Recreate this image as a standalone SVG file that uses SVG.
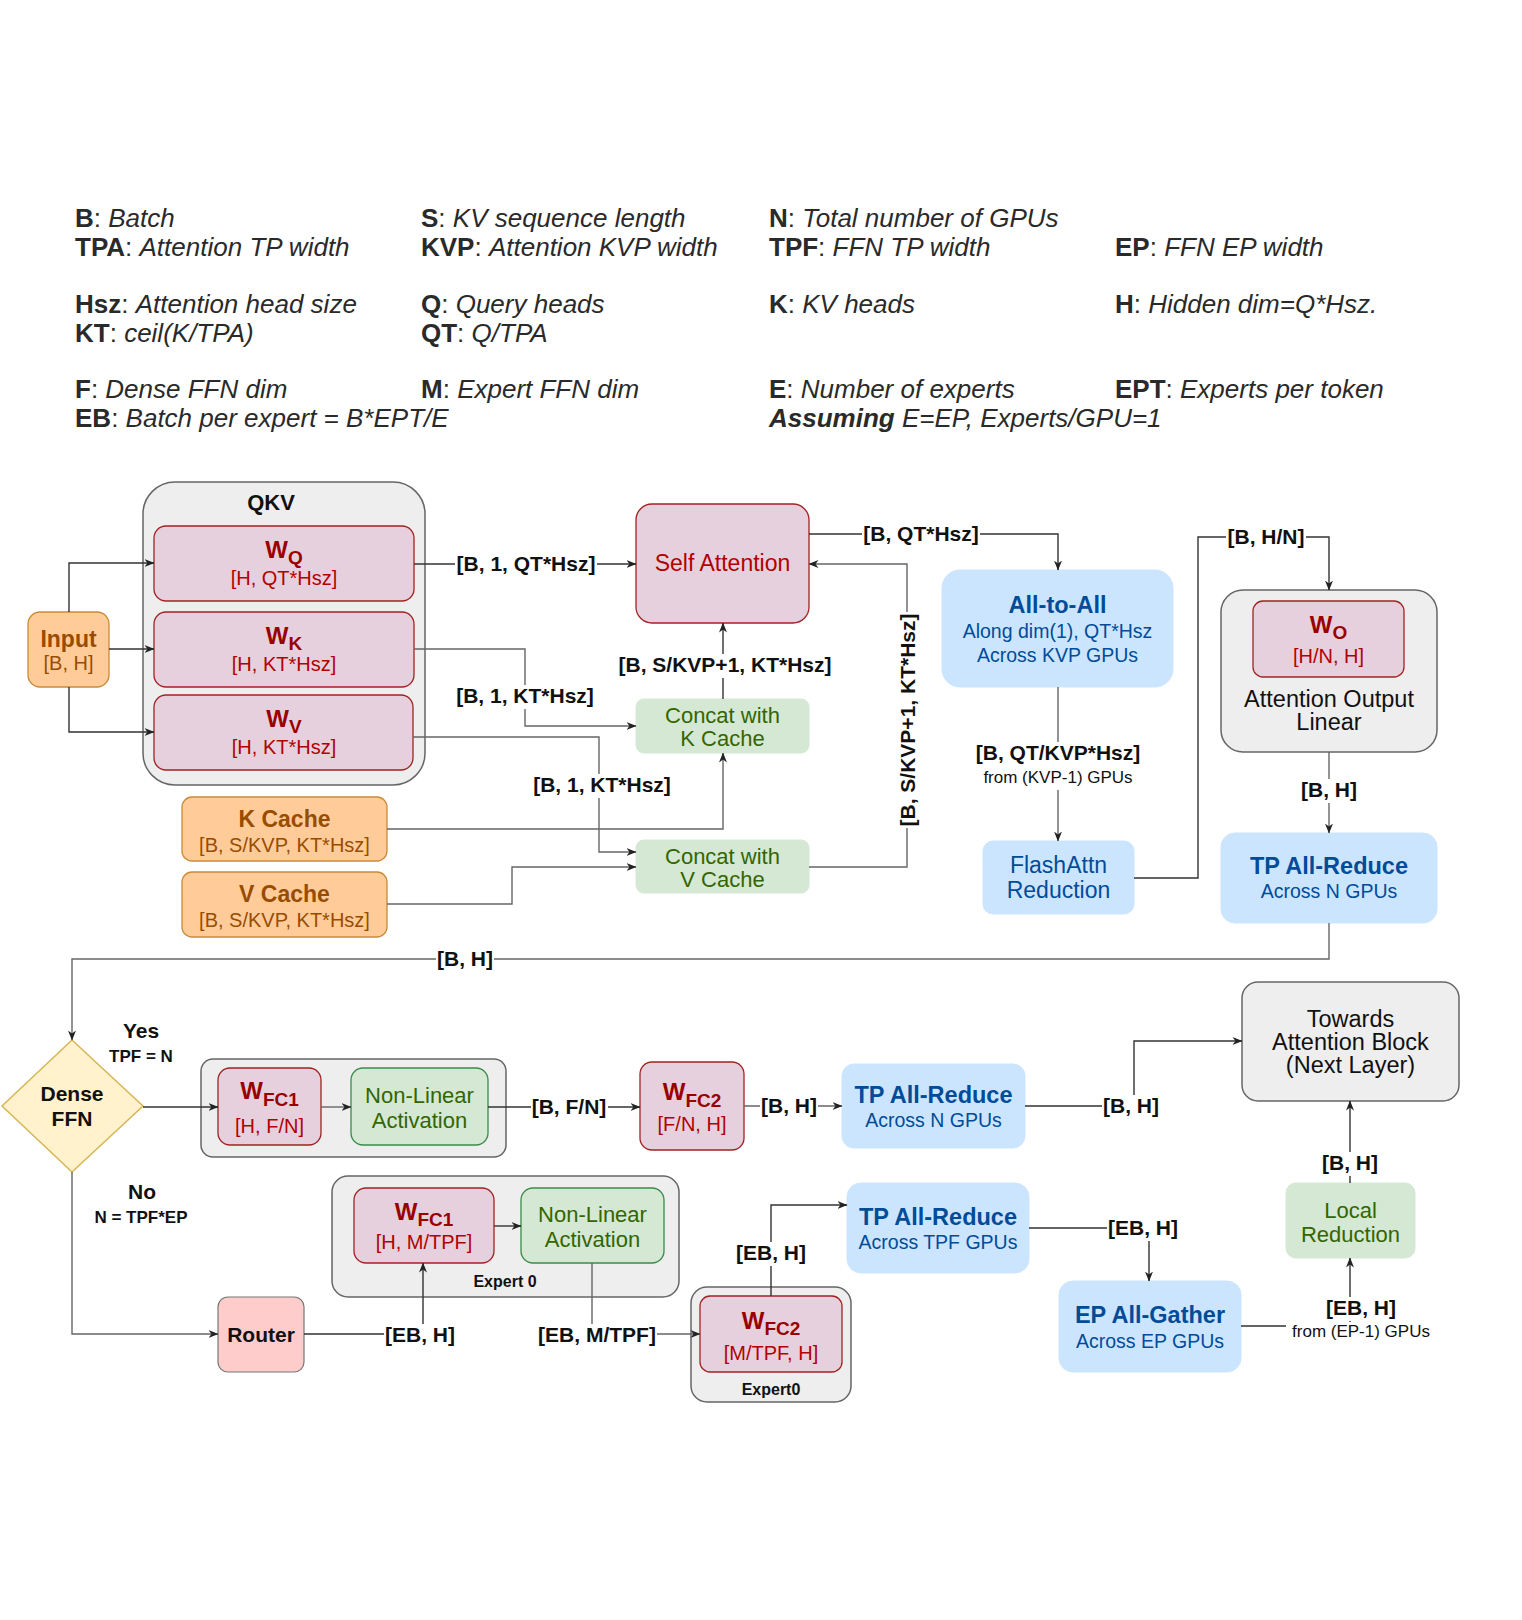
<svg xmlns="http://www.w3.org/2000/svg" width="1522" height="1620" viewBox="0 0 1522 1620">
<defs>
<style>
text{font-family:"Liberation Sans",Arial,Helvetica,sans-serif}
.lg{font-size:26px;fill:#2a2a2a}
.b{font-weight:bold}
.it{font-style:italic}
.lbl{font-size:21px;font-weight:bold;fill:#111;text-anchor:middle}
.sm{font-size:17px;fill:#111;text-anchor:middle}
.cont{fill:#eeeeee;stroke:#666;stroke-width:1.5}
.pk{fill:#e6d0de;stroke:#a32222;stroke-width:1.3}
.wt{font-size:24px;font-weight:bold;fill:#990000;text-anchor:middle}
.sub{font-size:19px}
.ws{font-size:20px;fill:#b20000;text-anchor:middle}
.or{fill:#ffcc99;stroke:#c98a3a;stroke-width:1.3}
.ot{font-size:23px;font-weight:bold;fill:#994c00;text-anchor:middle}
.os{font-size:20px;fill:#994c00;text-anchor:middle}
.bl{fill:#cce5ff;stroke:#cce5ff}
.bt{font-size:23.5px;font-weight:bold;fill:#004c99;text-anchor:middle}
.bs{font-size:19.5px;fill:#004c99;text-anchor:middle}
.bn{font-size:23px;fill:#004c99;text-anchor:middle}
.gr{fill:#d5e8d4;stroke:#d5e8d4}
.gb{fill:#d5e8d4;stroke:#3b8a4b;stroke-width:1.3}
.gt{font-size:22px;fill:#336600;text-anchor:middle}
.nt{font-size:23.5px;fill:#111;text-anchor:middle}
.ln{fill:none;stroke:#333;stroke-width:1.4}
.lgr{fill:none;stroke:#666;stroke-width:1.4}
.bg{fill:#fff}
</style>
<marker id="a" markerWidth="10" markerHeight="8" refX="9.5" refY="4" orient="auto" markerUnits="userSpaceOnUse">
<path d="M0,0 L10,4 L0,8 L3,4 z" fill="#222"/>
</marker>
</defs>
<rect x="0" y="0" width="1522" height="1620" fill="#fff"/>

<g id="legend">
<text class="lg" x="75" y="227"><tspan class="b">B</tspan>: <tspan class="it">Batch</tspan></text>
<text class="lg" x="75" y="256"><tspan class="b">TPA</tspan>: <tspan class="it">Attention TP width</tspan></text>
<text class="lg" x="75" y="313"><tspan class="b">Hsz</tspan>: <tspan class="it">Attention head size</tspan></text>
<text class="lg" x="75" y="342"><tspan class="b">KT</tspan>: <tspan class="it">ceil(K/TPA)</tspan></text>
<text class="lg" x="75" y="398"><tspan class="b">F</tspan>: <tspan class="it">Dense FFN dim</tspan></text>
<text class="lg" x="75" y="427"><tspan class="b">EB</tspan>: <tspan class="it">Batch per expert = B*EPT/E</tspan></text>
<text class="lg" x="421" y="227"><tspan class="b">S</tspan>: <tspan class="it">KV sequence length</tspan></text>
<text class="lg" x="421" y="256"><tspan class="b">KVP</tspan>: <tspan class="it">Attention KVP width</tspan></text>
<text class="lg" x="421" y="313"><tspan class="b">Q</tspan>: <tspan class="it">Query heads</tspan></text>
<text class="lg" x="421" y="342"><tspan class="b">QT</tspan>: <tspan class="it">Q/TPA</tspan></text>
<text class="lg" x="421" y="398"><tspan class="b">M</tspan>: <tspan class="it">Expert FFN dim</tspan></text>
<text class="lg" x="769" y="227"><tspan class="b">N</tspan>: <tspan class="it">Total number of GPUs</tspan></text>
<text class="lg" x="769" y="256"><tspan class="b">TPF</tspan>: <tspan class="it">FFN TP width</tspan></text>
<text class="lg" x="769" y="313"><tspan class="b">K</tspan>: <tspan class="it">KV heads</tspan></text>
<text class="lg" x="769" y="398"><tspan class="b">E</tspan>: <tspan class="it">Number of experts</tspan></text>
<text class="lg" x="769" y="427"><tspan class="b it">Assuming</tspan><tspan class="it"> E=EP, Experts/GPU=1</tspan></text>
<text class="lg" x="1115" y="256"><tspan class="b">EP</tspan>: <tspan class="it">FFN EP width</tspan></text>
<text class="lg" x="1115" y="313"><tspan class="b">H</tspan>: <tspan class="it">Hidden dim=Q*Hsz.</tspan></text>
<text class="lg" x="1115" y="398"><tspan class="b">EPT</tspan>: <tspan class="it">Experts per token</tspan></text>
</g>

<g id="qkv">
<rect class="cont" x="143" y="482" width="282" height="303" rx="32"/>
<text x="271" y="510" font-size="22" font-weight="bold" text-anchor="middle" fill="#111">QKV</text>
</g>
<g id="wq">
<rect class="pk" x="154" y="526" width="260" height="75" rx="12"/>
<text class="wt" x="284" y="558">W<tspan class="sub" dy="6">Q</tspan></text>
<text class="ws" x="284" y="585">[H, QT*Hsz]</text>
</g>
<g id="wk">
<rect class="pk" x="154" y="612" width="260" height="75" rx="12"/>
<text class="wt" x="284" y="644">W<tspan class="sub" dy="6">K</tspan></text>
<text class="ws" x="284" y="671">[H, KT*Hsz]</text>
</g>
<g id="wv">
<rect class="pk" x="154" y="695" width="259" height="75" rx="12"/>
<text class="wt" x="284" y="727">W<tspan class="sub" dy="6">V</tspan></text>
<text class="ws" x="284" y="754">[H, KT*Hsz]</text>
</g>
<g id="input">
<rect class="or" x="28" y="612" width="81" height="75" rx="12"/>
<text class="ot" x="68.5" y="647">Input</text>
<text class="os" x="68.5" y="670">[B, H]</text>
</g>
<g id="kcache">
<rect class="or" x="182" y="797" width="205" height="64" rx="10"/>
<text class="ot" x="284.5" y="827">K Cache</text>
<text class="os" x="284.5" y="852">[B, S/KVP, KT*Hsz]</text>
</g>
<g id="vcache">
<rect class="or" x="182" y="872" width="205" height="65" rx="10"/>
<text class="ot" x="284.5" y="902">V Cache</text>
<text class="os" x="284.5" y="927">[B, S/KVP, KT*Hsz]</text>
</g>
<g id="selfattn">
<rect class="pk" x="636" y="504" width="173" height="119" rx="16"/>
<text x="722.5" y="571" font-size="23" fill="#b20000" text-anchor="middle">Self Attention</text>
</g>
<g id="concatk">
<rect class="gr" x="636" y="699" width="173" height="54" rx="8"/>
<text class="gt" x="722.5" y="723">Concat with</text>
<text class="gt" x="722.5" y="746">K Cache</text>
</g>
<g id="concatv">
<rect class="gr" x="636" y="840" width="173" height="53" rx="8"/>
<text class="gt" x="722.5" y="864">Concat with</text>
<text class="gt" x="722.5" y="887">V Cache</text>
</g>
<g id="alltoall">
<rect class="bl" x="942" y="570" width="231" height="117" rx="18"/>
<text class="bt" x="1057.5" y="613">All-to-All</text>
<text class="bs" x="1057.5" y="638">Along dim(1), QT*Hsz</text>
<text class="bs" x="1057.5" y="662">Across KVP GPUs</text>
</g>
<g id="flashattn">
<rect class="bl" x="983" y="841" width="151" height="73" rx="10"/>
<text class="bn" x="1058.5" y="873">FlashAttn</text>
<text class="bn" x="1058.5" y="898">Reduction</text>
</g>
<g id="wo-block">
<rect class="cont" x="1221" y="590" width="216" height="162" rx="22"/>
<text class="nt" x="1329" y="707">Attention Output</text>
<text class="nt" x="1329" y="730">Linear</text>
</g>
<g id="wo">
<rect class="pk" x="1253" y="601" width="151" height="76" rx="10"/>
<text class="wt" x="1328.5" y="633">W<tspan class="sub" dy="6">O</tspan></text>
<text class="ws" x="1328.5" y="663">[H/N, H]</text>
</g>
<g id="tp-allreduce-attn">
<rect class="bl" x="1221" y="833" width="216" height="90" rx="14"/>
<text class="bt" x="1329" y="874">TP All-Reduce</text>
<text class="bs" x="1329" y="898">Across N GPUs</text>
</g>

<g id="dense-ffn">
<polygon points="72,1040 143,1106 72,1172 2,1106" fill="#fff2cc" stroke="#d6b656" stroke-width="1.5"/>
<text x="72" y="1101" font-size="21" font-weight="bold" text-anchor="middle" fill="#111">Dense</text>
<text x="72" y="1126" font-size="21" font-weight="bold" text-anchor="middle" fill="#111">FFN</text>
</g>
<g id="dense-block">
<rect class="cont" x="201" y="1059" width="305" height="98" rx="12"/>
</g>
<g id="wfc1-dense">
<rect class="pk" x="218" y="1068" width="103" height="77" rx="12"/>
<text class="wt" x="269.5" y="1099">W<tspan class="sub" dy="7">FC1</tspan></text>
<text class="ws" x="269.5" y="1133">[H, F/N]</text>
</g>
<g id="nonlinear-dense">
<rect class="gb" x="351" y="1068" width="137" height="77" rx="12"/>
<text class="gt" x="419.5" y="1103">Non-Linear</text>
<text class="gt" x="419.5" y="1128">Activation</text>
</g>
<g id="wfc2-dense">
<rect class="pk" x="640" y="1062" width="104" height="88" rx="12"/>
<text class="wt" x="692" y="1100">W<tspan class="sub" dy="7">FC2</tspan></text>
<text class="ws" x="692" y="1131">[F/N, H]</text>
</g>
<g id="tp-allreduce-dense">
<rect class="bl" x="842" y="1064" width="183" height="84" rx="12"/>
<text class="bt" x="933.5" y="1103">TP All-Reduce</text>
<text class="bs" x="933.5" y="1127">Across N GPUs</text>
</g>
<g id="towards">
<rect class="cont" x="1242" y="982" width="217" height="119" rx="16"/>
<text class="nt" x="1350.5" y="1027">Towards</text>
<text class="nt" x="1350.5" y="1050">Attention Block</text>
<text class="nt" x="1350.5" y="1073">(Next Layer)</text>
</g>
<g id="local-reduction">
<rect class="gr" x="1286" y="1183" width="129" height="75" rx="10"/>
<text class="gt" x="1350.5" y="1218">Local</text>
<text class="gt" x="1350.5" y="1242">Reduction</text>
</g>
<g id="expert0-fc1-block">
<rect class="cont" x="332" y="1176" width="347" height="121" rx="16"/>
<text x="505" y="1287" font-size="16" font-weight="bold" text-anchor="middle" fill="#111">Expert 0</text>
</g>
<g id="wfc1-expert">
<rect class="pk" x="354" y="1188" width="140" height="75" rx="12"/>
<text class="wt" x="424" y="1220">W<tspan class="sub" dy="6">FC1</tspan></text>
<text class="ws" x="424" y="1249">[H, M/TPF]</text>
</g>
<g id="nonlinear-expert">
<rect class="gb" x="521" y="1188" width="143" height="75" rx="12"/>
<text class="gt" x="592.5" y="1222">Non-Linear</text>
<text class="gt" x="592.5" y="1247">Activation</text>
</g>
<g id="router">
<rect x="218" y="1297" width="86" height="75" rx="10" fill="#ffcccc" stroke="#777" stroke-width="1.2"/>
<text x="261" y="1342" font-size="21" font-weight="bold" text-anchor="middle" fill="#111">Router</text>
</g>
<g id="expert0-fc2-block">
<rect class="cont" x="691" y="1287" width="160" height="115" rx="16"/>
<text x="771" y="1395" font-size="16" font-weight="bold" text-anchor="middle" fill="#111">Expert0</text>
</g>
<g id="wfc2-expert">
<rect class="pk" x="700" y="1296" width="142" height="76" rx="10"/>
<text class="wt" x="771" y="1329">W<tspan class="sub" dy="6">FC2</tspan></text>
<text class="ws" x="771" y="1360">[M/TPF, H]</text>
</g>
<g id="tp-allreduce-expert">
<rect class="bl" x="847" y="1183" width="182" height="90" rx="14"/>
<text class="bt" x="938" y="1225">TP All-Reduce</text>
<text class="bs" x="938" y="1249">Across TPF GPUs</text>
</g>
<g id="ep-allgather">
<rect class="bl" x="1059" y="1281" width="182" height="91" rx="14"/>
<text class="bt" x="1150" y="1323">EP All-Gather</text>
<text class="bs" x="1150" y="1348">Across EP GPUs</text>
</g>

<g id="connectors">
<path class="ln" d="M69,612 V563 H154" marker-end="url(#a)"/>
<path class="ln" d="M109,649 H154" marker-end="url(#a)"/>
<path class="ln" d="M69,687 V732 H154" marker-end="url(#a)"/>
<path class="ln" d="M414,564 H636" marker-end="url(#a)"/>
<path class="lgr" d="M414,649 H525 V726 H636" marker-end="url(#a)"/>
<path class="lgr" d="M413,737 H599 V852 H636" marker-end="url(#a)"/>
<path class="lgr" d="M387,829 H723 V753" marker-end="url(#a)"/>
<path class="lgr" d="M387,904 H512 V867 H636" marker-end="url(#a)"/>
<path class="ln" d="M723,699 V623" marker-end="url(#a)"/>
<path class="lgr" d="M809,867 H907 V564 H809" marker-end="url(#a)"/>
<path class="ln" d="M809,534 H1058 V570" marker-end="url(#a)"/>
<path class="lgr" d="M1058,687 V841" marker-end="url(#a)"/>
<path class="ln" d="M1134,878 H1198 V537 H1329 V590" marker-end="url(#a)"/>
<path class="lgr" d="M1329,752 V833" marker-end="url(#a)"/>
<path class="lgr" d="M1329,923 V959 H72 V1040" marker-end="url(#a)"/>
<path class="ln" d="M143,1107 H218" marker-end="url(#a)"/>
<path class="lgr" d="M321,1107 H351" marker-end="url(#a)"/>
<path class="ln" d="M488,1107 H640" marker-end="url(#a)"/>
<path class="lgr" d="M744,1106 H842" marker-end="url(#a)"/>
<path class="ln" d="M1025,1106 H1134 V1041 H1242" marker-end="url(#a)"/>
<path class="ln" d="M1350,1183 V1101" marker-end="url(#a)"/>
<path class="lgr" d="M72,1172 V1334 H218" marker-end="url(#a)"/>
<path class="ln" d="M304,1334 H423 V1263" marker-end="url(#a)"/>
<path class="ln" d="M494,1226 H521" marker-end="url(#a)"/>
<path class="lgr" d="M592,1263 V1334 H700" marker-end="url(#a)"/>
<path class="ln" d="M771,1296 V1205 H847" marker-end="url(#a)"/>
<path class="ln" d="M1029,1228 H1149 V1281" marker-end="url(#a)"/>
<path class="ln" d="M1241,1326 H1350 V1258" marker-end="url(#a)"/>

<rect class="bg" x="455" y="554" width="142" height="24"/>
<text class="lbl" x="526" y="571">[B, 1, QT*Hsz]</text>
<rect class="bg" x="455" y="685" width="140" height="24"/>
<text class="lbl" x="525" y="703">[B, 1, KT*Hsz]</text>
<rect class="bg" x="532" y="774" width="140" height="24"/>
<text class="lbl" x="602" y="792">[B, 1, KT*Hsz]</text>
<rect class="bg" x="617" y="654" width="216" height="24"/>
<text class="lbl" x="725" y="672">[B, S/KVP+1, KT*Hsz]</text>
<g transform="translate(915,720) rotate(-90)">
<rect class="bg" x="-108" y="-18" width="216" height="24"/>
<text class="lbl" x="0" y="0">[B, S/KVP+1, KT*Hsz]</text>
</g>
<rect class="bg" x="862" y="523" width="118" height="24"/>
<text class="lbl" x="921" y="541">[B, QT*Hsz]</text>
<rect class="bg" x="972" y="742" width="172" height="48"/>
<text class="lbl" x="1058" y="760">[B, QT/KVP*Hsz]</text>
<text class="sm" x="1058" y="783">from (KVP-1) GPUs</text>
<rect class="bg" x="1226" y="526" width="80" height="24"/>
<text class="lbl" x="1266" y="544">[B, H/N]</text>
<rect class="bg" x="1300" y="779" width="58" height="24"/>
<text class="lbl" x="1329" y="797">[B, H]</text>
<rect class="bg" x="436" y="948" width="58" height="24"/>
<text class="lbl" x="465" y="966">[B, H]</text>
<text class="lbl" x="141" y="1038">Yes</text>
<text x="141" y="1062" font-size="17" font-weight="bold" text-anchor="middle" fill="#111">TPF = N</text>
<rect class="bg" x="531" y="1096" width="77" height="24"/>
<text class="lbl" x="569" y="1114">[B, F/N]</text>
<rect class="bg" x="760" y="1095" width="58" height="24"/>
<text class="lbl" x="789" y="1113">[B, H]</text>
<rect class="bg" x="1102" y="1095" width="58" height="24"/>
<text class="lbl" x="1131" y="1113">[B, H]</text>
<rect class="bg" x="1321" y="1152" width="58" height="24"/>
<text class="lbl" x="1350" y="1170">[B, H]</text>
<text class="lbl" x="142" y="1199">No</text>
<text x="141" y="1223" font-size="17" font-weight="bold" text-anchor="middle" fill="#111">N = TPF*EP</text>
<rect class="bg" x="384" y="1324" width="72" height="24"/>
<text class="lbl" x="420" y="1342">[EB, H]</text>
<rect class="bg" x="537" y="1324" width="120" height="24"/>
<text class="lbl" x="597" y="1342">[EB, M/TPF]</text>
<rect class="bg" x="735" y="1242" width="72" height="24"/>
<text class="lbl" x="771" y="1260">[EB, H]</text>
<rect class="bg" x="1107" y="1217" width="72" height="24"/>
<text class="lbl" x="1143" y="1235">[EB, H]</text>
<rect class="bg" x="1325" y="1297" width="72" height="24"/>
<text class="lbl" x="1361" y="1315">[EB, H]</text>
<rect class="bg" x="1286" y="1322" width="150" height="20"/>
<text class="sm" x="1361" y="1337">from (EP-1) GPUs</text>
</g>
</svg>
